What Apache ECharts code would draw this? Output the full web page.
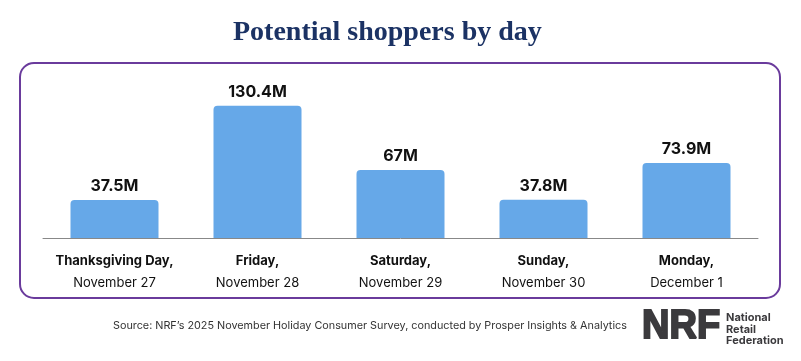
<!DOCTYPE html>
<html><head><meta charset="utf-8">
<script src="https://cdn.jsdelivr.net/npm/echarts@6/dist/echarts.min.js"></script>
<style>html,body{margin:0;padding:0;background:#fff}#c{width:801px;height:361px}</style>
</head><body><div id="c"></div>
<script>
const dayNames = ['Thanksgiving Day,', 'Friday,', 'Saturday,', 'Sunday,', 'Monday,'];
const dates = ['November 27', 'November 28', 'November 29', 'November 30', 'December 1'];
const values = [37.5, 130.4, 67, 37.8, 73.9];
const valueLabels = ['37.5M', '130.4M', '67M', '37.8M', '73.9M'];

const chart = echarts.init(document.getElementById('c'), null, {renderer: 'canvas'});
const font = 'Inter, "Noto Sans", sans-serif';
chart.setOption({
  animation: false,
  backgroundColor: '#fff',
  title: {
    text: 'Potential shoppers by day',
    left: 228, top: 14,
    textStyle: {fontFamily: '"Liberation Serif", serif', fontWeight: 'bold', fontSize: 28, color: '#1b3264'}
  },
  graphic: [
    {type: 'rect', shape: {x: 20, y: 63, width: 760, height: 235, r: 14}, style: {fill: 'none', stroke: '#6a3b9c', lineWidth: 2}},
    {type: 'text', left: 113, top: 320, style: {text: 'Source: NRF\u2019s 2025 November Holiday Consumer Survey, conducted by Prosper Insights & Analytics', font: '10.8px ' + font, fill: '#333'}},
    {type: 'text', x: 642, y: 307, scaleX: 0.95, style: {text: 'NRF', font: 'bold 40px "Liberation Sans", Arial, sans-serif', fill: '#3b3a3d', stroke: '#3b3a3d', lineWidth: 2}},
    {type: 'text', left: 726, top: 312, style: {text: 'National\nRetail\nFederation', font: 'bold 11px ' + font, fill: '#3b3a3d', lineHeight: 11.5}}
  ],
  grid: {left: 43, width: 715, top: 86, height: 152},
  xAxis: {
    type: 'category',
    data: dayNames.map((d, i) => d + '\n' + dates[i]),
    axisLine: {show: true, lineStyle: {color: '#888', width: 1}},
    axisTick: {show: false},
    axisLabel: {
      interval: 0,
      margin: 12,
      formatter: (v) => { const p = v.split('\n'); return '{a|' + p[0] + '}\n{b|' + p[1] + '}'; },
      rich: {
        a: {fontFamily: font, fontWeight: 'bold', fontSize: 13, color: '#111', lineHeight: 22},
        b: {fontFamily: font, fontSize: 13, color: '#111', lineHeight: 22}
      }
    }
  },
  yAxis: {type: 'value', min: 0, max: 150, show: false, splitLine: {show: false}},
  series: [{
    type: 'bar',
    data: values,
    barWidth: 88,
    itemStyle: {color: '#66a8e8', borderRadius: [4, 4, 0, 0]},
    label: {
      show: true, position: 'top', distance: 6,
      formatter: (p) => valueLabels[p.dataIndex],
      fontFamily: font, fontWeight: 'bold', fontSize: 16, color: '#111'
    }
  }]
});
</script></body></html>
